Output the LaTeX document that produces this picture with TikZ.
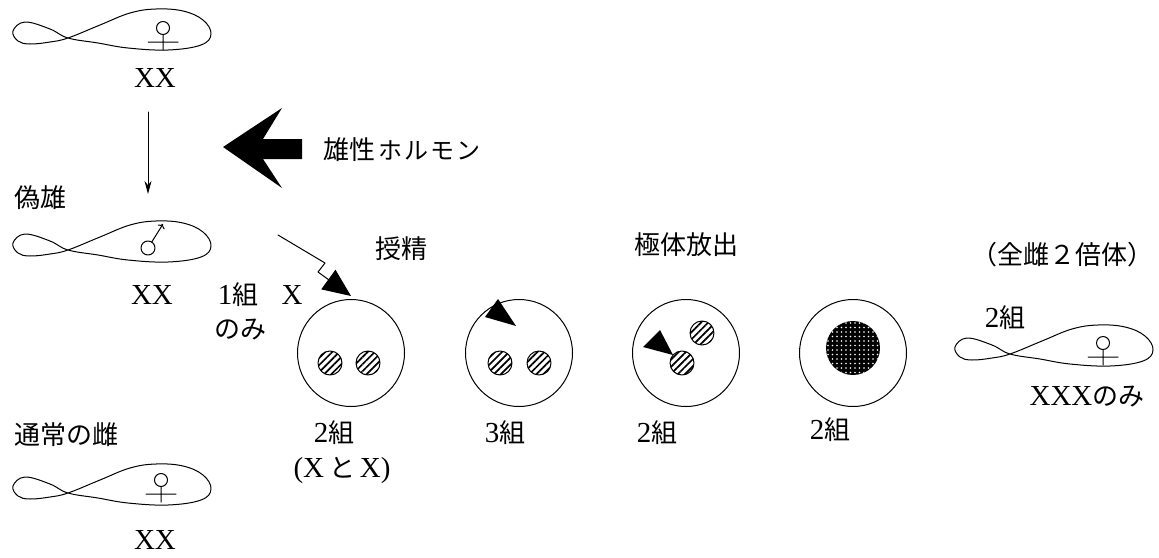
\documentclass[tikz,border=0pt]{standalone}
\usepackage{fontspec}
\setmainfont{Liberation Serif}
\newfontfamily\jpfont{Noto Sans CJK JP}
\newcommand\jp[1]{{\jpfont\fontsize{26}{30}\selectfont #1}}
\usetikzlibrary{arrows.meta,patterns.meta}
\tikzset{
  % figure-eight fish, origin at the crossing of the tail
  fish/.pic={\draw plot[smooth cycle,tension=.65] coordinates{(0,0) (32,-13) (62,-25) (88,-29) (115,-27) (135,-18) (143,-4) (133,7) (100,12) (60,10) (30,5) (0,0) (-18,-9) (-43,-16) (-55,-7) (-50,3) (-38,6) (-18,4)};},
  venus/.pic={\draw (0,0) circle (6.5pt) (0,6.5) -- (0,22) (-15,14) -- (15,14);},
  mars/.pic={\draw (0,0) circle (7pt); \draw[-{To[length=4pt,width=8pt]}] (3.7,-5.9) -- (15,-24);}
}
\begin{document}
\begin{tikzpicture}[x=1pt,y=-1pt,line join=round,line cap=round,line width=1pt,font=\fontsize{29}{34}\selectfont,
    egg/.style={draw,circle,minimum size=107pt,inner sep=0pt},
    nuc/.style={draw,pattern={Lines[angle=45,distance=5pt,line width=1.7pt]}}]
  \useasboundingbox (0,0) rectangle (1159,557);

  % fish on the left
  \pic at (68,38) {fish};  \pic at (163,28) {venus};
  \pic at (68,250) {fish}; \pic at (148,248) {mars};
  \pic at (68,493) {fish}; \pic at (161,480) {venus};
  \node (xx1) at (155,78) {XX};
  \node (xx2) at (152,295) {XX};
  \node (xx3) at (155,540) {XX};
  \node[anchor=west] (pseudo) at (11,198) {\jp{偽雄}};
  \node[anchor=west] (normal) at (11,435) {\jp{通常の雌}};

  \coordinate (down1) at (148,112);
  \coordinate (down2) at (148,194);
  \draw[-{Stealth[length=13pt,width=7pt]}] (down1) -- (down2);

  % hormone arrow
  \fill (223,147) -- (282,108) -- (263,139) -- (302,139) -- (302,159) -- (263,159) -- (282,188) -- cycle;
  \node[anchor=west] (hormone) at (320,150) {\jp{雄性}\hspace{3pt}{\jpfont\fontsize{24}{28}\selectfont ホ\hspace{2pt}ル\hspace{2pt}モ\hspace{2pt}ン}};

  \node (one) at (238,295) {1\jp{組}};
  \node (only) at (240,330) {\jp{のみ}};
  \node (x) at (292,295) {X};

  % eggs
  \node[egg] (e1) at (351,353) {};
  \node[egg] (e2) at (519,353) {};
  \node[egg] (e3) at (686,353) {};
  \node[egg] (e4) at (853,353) {};
  \draw[nuc] (330,363) circle (12pt) (368,363) circle (12pt);
  \draw[nuc] (500,363) circle (12pt) (539,363) circle (12pt);
  \draw[nuc] (702,333) circle (12pt) (682,363) circle (12pt);
  \fill (853,348) circle (27pt);
  \fill[pattern={Dots[distance=4.5pt,radius=.9pt]},pattern color=white] (853,348) circle (27pt);
  \fill (516,326) -- (498,299) -- (485,317) -- cycle;
  \fill (673,355) -- (660,330) -- (643,347) -- cycle;

  \coordinate (sperm) at (278,235);
  \draw[-{Triangle[length=28pt,width=24pt]}] (sperm) -- (325,263) -- (318,272) -- ([yshift=3pt]e1.north);

  \node (fert) at (401,249) {\jp{授精}};
  \node (polar) at (686,245) {\jp{極体放出}};
  \node (n1) at (334,433) {2\jp{組}};
  \node (xandx) at (342,470) {(X\,\jp{と}\,X)};
  \node (n2) at (505,433) {3\jp{組}};
  \node (n3) at (657,433) {2\jp{組}};
  \node (n4) at (830,430) {2\jp{組}};

  % all-female diploid
  \node (diploid) at (1062,255) {\jp{（全雌２倍体）}};
  \node (n5) at (1005,318) {2\jp{組}};
  \pic at (1010,354) {fish}; \pic at (1103,343) {venus};
  \node (xxx) at (1087,397) {XXX\jp{のみ}};
\end{tikzpicture}
\end{document}
